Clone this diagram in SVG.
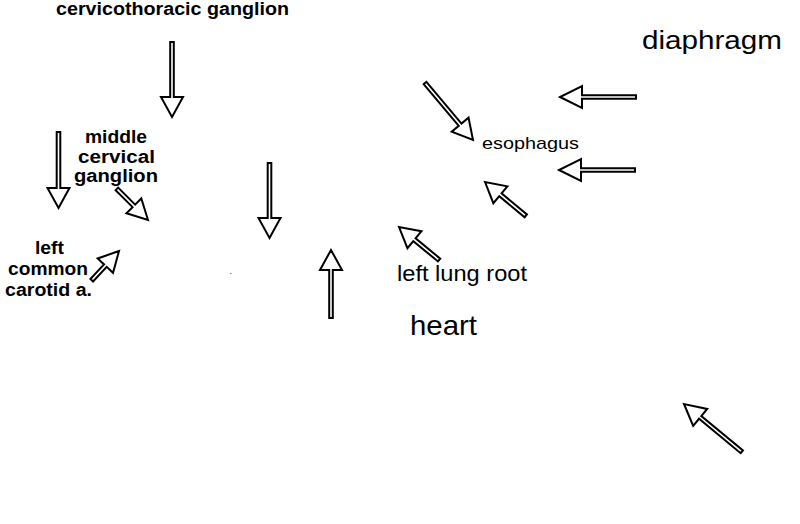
<svg xmlns="http://www.w3.org/2000/svg" width="800" height="524" viewBox="0 0 800 524">
<style>
.arr{fill:#fff;stroke:#000;stroke-width:2;stroke-linejoin:miter}
.b{font-family:"Liberation Sans",Arial,sans-serif;font-weight:bold;font-size:17.5px;fill:#000}
.r{font-family:"Liberation Sans",Arial,sans-serif;fill:#000}
</style>
<rect width="800" height="524" fill="#fff"/>
<g id="connectors">
<path class="arr" transform="translate(172,117) rotate(90)" d="M0,0 L-20,-11 L-20,-1.8 L-75,-1.8 L-75,1.8 L-20,1.8 L-20,11 Z"/>
<path class="arr" transform="translate(58.5,208) rotate(90)" d="M0,0 L-20,-11 L-20,-1.8 L-76,-1.8 L-76,1.8 L-20,1.8 L-20,11 Z"/>
<path class="arr" transform="translate(148,220) rotate(45)" d="M0,0 L-20,-10.5 L-20,-1.8 L-44,-1.8 L-44,1.8 L-20,1.8 L-20,10.5 Z"/>
<path class="arr" transform="translate(119,251) rotate(-47)" d="M0,0 L-20,-10.5 L-20,-1.8 L-40,-1.8 L-40,1.8 L-20,1.8 L-20,10.5 Z"/>
<path class="arr" transform="translate(269.5,238) rotate(90)" d="M0,0 L-20,-11 L-20,-1.8 L-75,-1.8 L-75,1.8 L-20,1.8 L-20,11 Z"/>
<path class="arr" transform="translate(331,250) rotate(-90)" d="M0,0 L-20,-11 L-20,-1.8 L-68,-1.8 L-68,1.8 L-20,1.8 L-20,11 Z"/>
<path class="arr" transform="translate(473,140) rotate(49.9)" d="M0,0 L-20,-11 L-20,-1.8 L-74.5,-1.8 L-74.5,1.8 L-20,1.8 L-20,11 Z"/>
<path class="arr" transform="translate(560,97) rotate(180)" d="M0,0 L-22,-11 L-22,-1.8 L-76,-1.8 L-76,1.8 L-22,1.8 L-22,11 Z"/>
<path class="arr" transform="translate(559,170) rotate(180)" d="M0,0 L-22,-11 L-22,-1.8 L-76,-1.8 L-76,1.8 L-22,1.8 L-22,11 Z"/>
<path class="arr" transform="translate(485,182) rotate(-140.3)" d="M0,0 L-20,-11 L-20,-1.8 L-53,-1.8 L-53,1.8 L-20,1.8 L-20,11 Z"/>
<path class="arr" transform="translate(399,227) rotate(-140.5)" d="M0,0 L-20,-11 L-20,-1.8 L-52,-1.8 L-52,1.8 L-20,1.8 L-20,11 Z"/>
<path class="arr" transform="translate(684,404) rotate(-140.4)" d="M0,0 L-21,-11 L-21,-1.8 L-75,-1.8 L-75,1.8 L-21,1.8 L-21,11 Z"/>
</g>
<rect x="230" y="273" width="1.5" height="1" fill="#888"/>
<g id="cervicothoracic-ganglion"><text class="b" x="56" y="15" textLength="233" lengthAdjust="spacingAndGlyphs">cervicothoracic ganglion</text></g>
<g id="middle-cervical-ganglion">
<text class="b" x="85" y="143" textLength="62" lengthAdjust="spacingAndGlyphs">middle</text>
<text class="b" x="78" y="163" textLength="77" lengthAdjust="spacingAndGlyphs">cervical</text>
<text class="b" x="74" y="182" textLength="84" lengthAdjust="spacingAndGlyphs">ganglion</text>
</g>
<g id="left-common-carotid">
<text class="b" x="35" y="254" textLength="29" lengthAdjust="spacingAndGlyphs">left</text>
<text class="b" x="8" y="275" textLength="80" lengthAdjust="spacingAndGlyphs">common</text>
<text class="b" x="5" y="296" textLength="87" lengthAdjust="spacingAndGlyphs">carotid a.</text>
</g>
<g id="esophagus"><text class="r" x="482" y="149" font-size="17" textLength="97" lengthAdjust="spacingAndGlyphs">esophagus</text></g>
<g id="left-lung-root"><text class="r" x="397" y="281" font-size="22" textLength="130" lengthAdjust="spacingAndGlyphs">left lung root</text></g>
<g id="heart"><text class="r" x="410" y="335" font-size="28" textLength="67" lengthAdjust="spacingAndGlyphs">heart</text></g>
<g id="diaphragm"><text class="r" x="642" y="49" font-size="26.5" textLength="140" lengthAdjust="spacingAndGlyphs">diaphragm</text></g>
</svg>
